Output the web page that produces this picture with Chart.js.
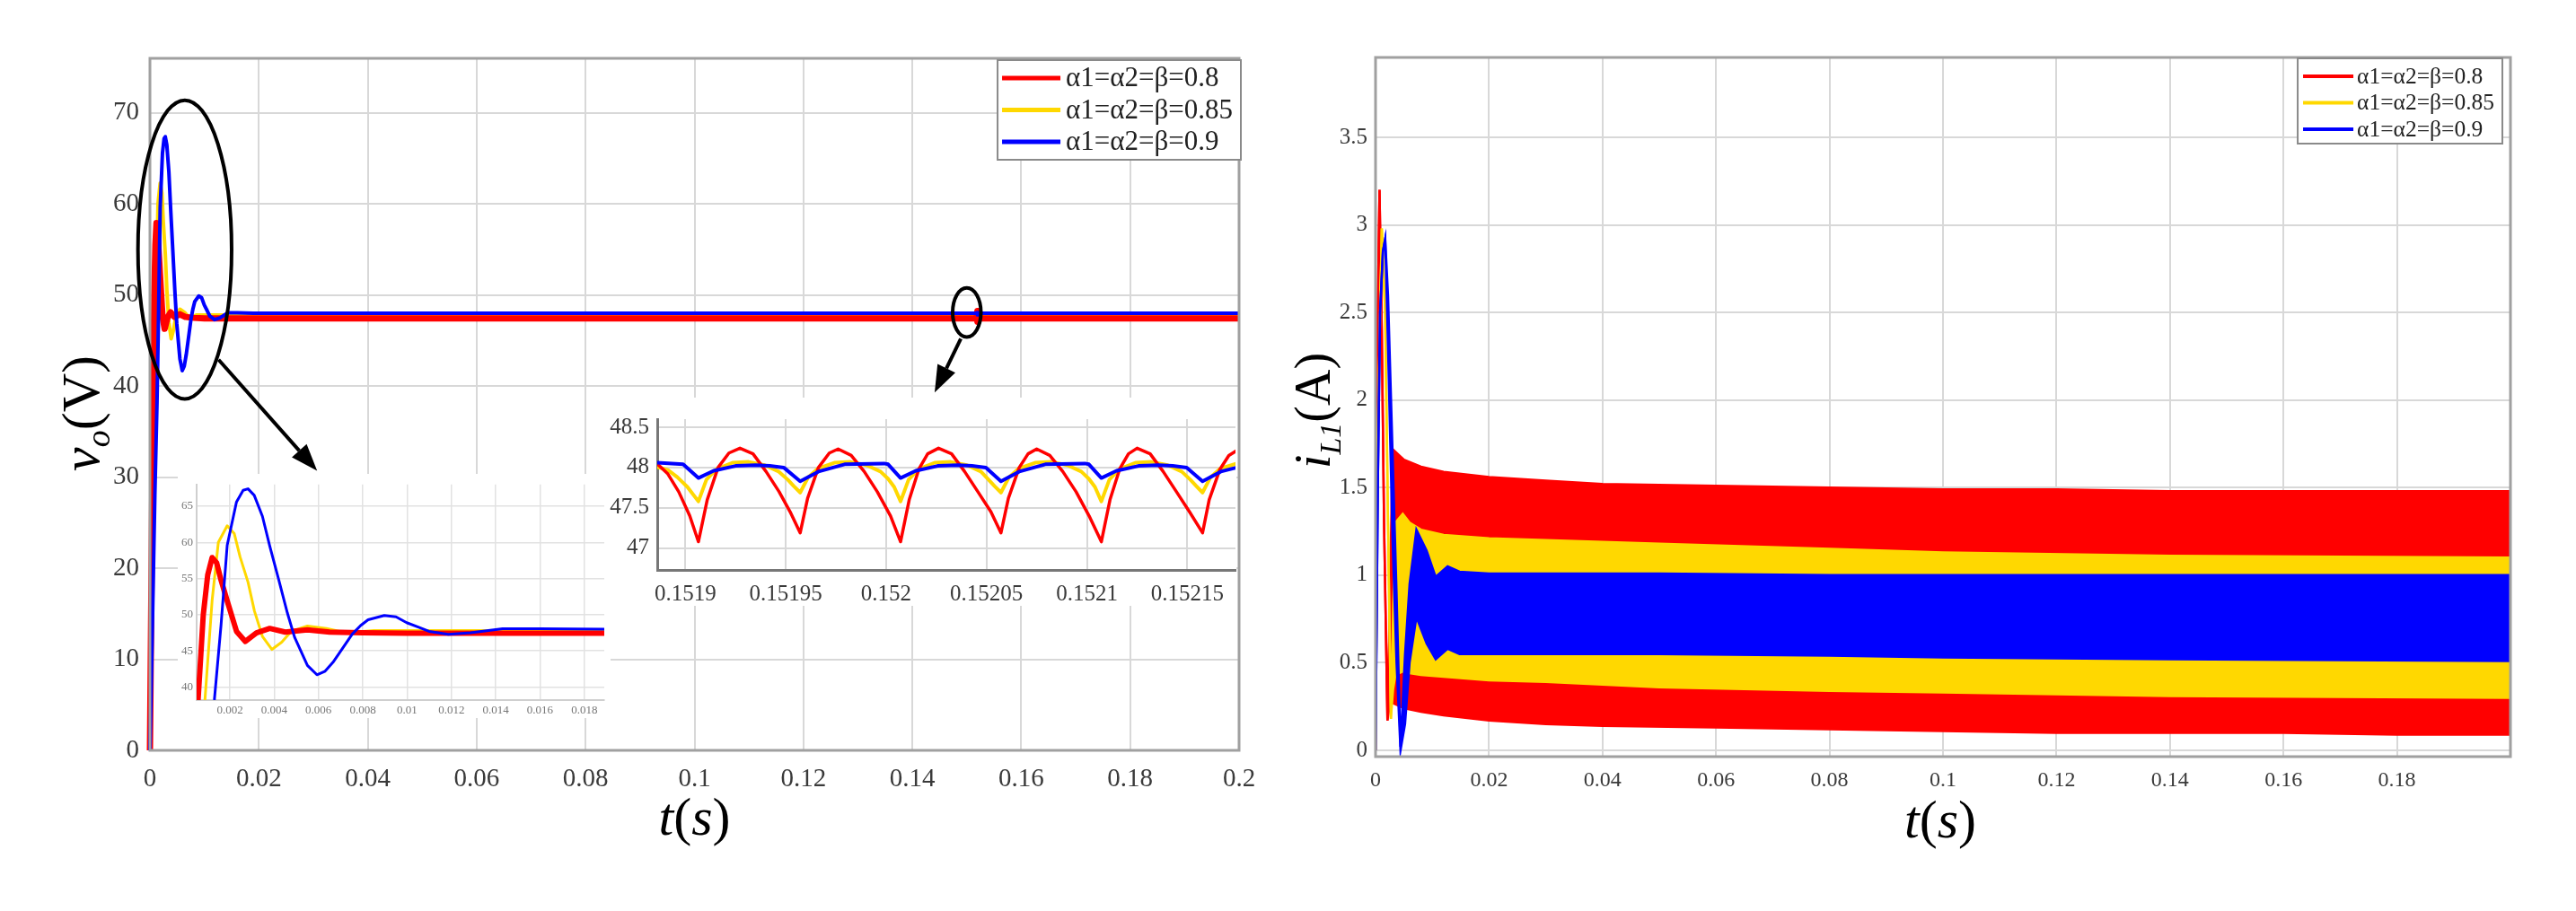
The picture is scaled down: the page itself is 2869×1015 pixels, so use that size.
<!DOCTYPE html>
<html><head><meta charset="utf-8">
<script src="https://cdn.jsdelivr.net/npm/chart.js@4.4.0/dist/chart.umd.min.js"></script>
<style>
html,body{margin:0;padding:0;background:#fff;}
body{position:relative;width:2869px;height:1015px;overflow:hidden;}
canvas{position:absolute;display:block;}
</style></head><body>
<canvas id="main" width="1434" height="1015" style="left:0;top:0;width:1434px;height:1015px"></canvas>
<canvas id="ins1" width="482" height="272" style="left:198px;top:528px;width:482px;height:272px"></canvas>
<canvas id="ins2" width="702" height="232" style="left:675px;top:443px;width:702px;height:232px"></canvas>
<canvas id="right" width="1435" height="1015" style="left:1434px;top:0;width:1435px;height:1015px"></canvas>
<script>
// ---------------- data ----------------
const seriesLabels = ['α1=α2=β=0.8', 'α1=α2=β=0.85', 'α1=α2=β=0.9'];
const seriesColors = ['#ff0000', '#ffd800', '#0000ff'];

// v_o : start-up transient (s, V)
const tRedA = [0,0.0003,0.00056,0.0008,0.001,0.0012,0.0014,0.0016,0.0019,0.0023,0.0027,0.0032,0.0038,0.0045,0.0055,0.0065,0.008,0.01,0.015,0.03,0.06,0.1,0.13,0.1518];
const vRedA = [0,20,38,50,55.5,57.9,57.2,54.8,51.7,47.7,46.3,47.5,48.1,47.6,47.9,47.6,47.5,47.45,47.45,47.45,47.45,47.45,47.45,47.45];
const tYelA = [0,0.0004,0.00087,0.0012,0.00148,0.00188,0.0022,0.00246,0.00282,0.00311,0.00347,0.0039,0.00434,0.00477,0.0055,0.00636,0.00723,0.0085,0.01,0.015,0.03,0.06,0.1,0.13,0.1518];
const vYelA = [0,18,38,52,60,62.3,61.2,58,54.5,50.5,47,45.2,46.2,47.7,48.45,48.1,47.5,47.8,47.8,47.8,47.8,47.8,47.8,47.8,47.8];
const tBluA = [0,0.0004,0.0009,0.0013,0.0016,0.00188,0.0023,0.0026,0.00282,0.0031,0.00347,0.0038,0.0042,0.0046,0.00492,0.0055,0.00593,0.0063,0.00665,0.0071,0.00752,0.0079,0.00824,0.00897,0.0095,0.00998,0.0105,0.01099,0.01186,0.01287,0.01431,0.016,0.019,0.03,0.06,0.1,0.13,0.1518];
const vBluA = [0,12,28,38.2,48.5,59.6,65.6,67.2,67.4,66.5,63.6,59.5,54.9,50.2,46.9,43,41.7,42.2,43.4,45.4,47.3,48.5,49.3,49.9,49.7,48.9,48.3,47.7,47.3,47.5,48.05,48.05,48.0,48.0,48.0,48.0,48.0,48.0];

// v_o : steady-state ripple around t = 0.152 s
const tRedR = [0.1518854,0.1518913,0.1518967,0.1519022,
 0.1519065,0.1519109,0.1519163,0.1519217,0.1519272,0.1519337,0.1519402,0.1519467,0.1519522,
 0.1519572,0.1519609,0.1519663,0.1519717,0.1519761,0.1519826,0.1519891,0.1519956,0.1520022,
 0.1520072,0.1520115,0.1520163,0.1520207,0.1520261,0.1520326,0.1520391,0.1520457,0.1520522,
 0.1520572,0.1520609,0.1520663,0.1520707,0.1520750,0.1520815,0.1520880,0.1520946,0.1521011,
 0.1521072,0.1521115,0.1521163,0.1521207,0.1521250,0.1521315,0.1521380,0.1521446,0.1521511,
 0.1521576,0.1521609,0.1521663,0.1521707,0.1521746];
const vRedR = [48.06,47.92,47.70,47.40,
 47.08,47.60,48.00,48.18,48.24,48.17,47.95,47.70,47.45,
 47.19,47.62,48.00,48.18,48.23,48.15,47.95,47.70,47.40,
 47.08,47.60,47.98,48.17,48.24,48.17,47.95,47.70,47.45,
 47.19,47.62,48.00,48.17,48.23,48.15,47.95,47.70,47.40,
 47.08,47.60,47.98,48.17,48.24,48.17,47.95,47.70,47.45,
 47.19,47.60,47.98,48.15,48.21];
const tYelR = [0.1518854,0.1518913,0.1518960,0.1519010,
 0.1519065,0.1519105,0.1519155,0.1519235,0.1519315,0.1519395,0.1519465,0.1519510,0.1519540,
 0.1519572,0.1519612,0.1519662,0.1519742,0.1519822,0.1519902,0.1519972,0.1520010,0.1520040,
 0.1520072,0.1520112,0.1520162,0.1520242,0.1520322,0.1520402,0.1520472,0.1520510,0.1520540,
 0.1520572,0.1520612,0.1520662,0.1520742,0.1520822,0.1520902,0.1520972,0.1521010,0.1521040,
 0.1521072,0.1521112,0.1521162,0.1521242,0.1521322,0.1521402,0.1521472,0.1521515,0.1521545,
 0.1521576,0.1521616,0.1521666,0.1521746];
const vYelR = [48.01,47.97,47.88,47.76,
 47.58,47.85,47.98,48.06,48.07,48.03,47.95,47.85,47.77,
 47.69,47.88,47.99,48.06,48.07,48.03,47.95,47.86,47.76,
 47.58,47.85,47.98,48.06,48.07,48.03,47.95,47.85,47.77,
 47.69,47.88,47.99,48.06,48.07,48.03,47.95,47.86,47.76,
 47.58,47.85,47.98,48.06,48.07,48.03,47.95,47.85,47.77,
 47.69,47.88,47.99,48.05];
const tBluR = [0.1518854,0.1518989,
 0.1519065,0.1519141,0.1519250,0.1519350,0.1519420,0.1519490,
 0.1519572,0.1519663,0.1519793,0.1519990,0.1520010,
 0.1520072,0.1520148,0.1520257,0.1520357,0.1520427,0.1520497,
 0.1520572,0.1520663,0.1520793,0.1520990,0.1521010,
 0.1521072,0.1521148,0.1521257,0.1521357,0.1521427,0.1521497,
 0.1521576,0.1521667,0.1521746];
const vBluR = [48.06,48.04,
 47.87,47.96,48.02,48.03,48.02,48.00,
 47.83,47.95,48.04,48.05,48.04,
 47.87,47.96,48.02,48.03,48.02,48.00,
 47.83,47.95,48.04,48.05,48.04,
 47.87,47.96,48.02,48.03,48.02,48.00,
 47.83,47.95,48.00];

// v_o : remaining steady state
const tTail = [0.1523,0.17,0.2];
const vRedTail = [47.45,47.45,47.45];
const vYelTail = [47.8,47.8,47.8];
const vBluTail = [48.0,48.0,48.0];

// i_L1 : ripple envelopes (upper / lower), A
const tiRed  = [0,0.0003,0.0007,0.0011,0.0015,0.0021,0.0026,0.003,0.005,0.008,0.012,0.02,0.03,0.04,0.06,0.08,0.1,0.12,0.14,0.16,0.18,0.2];
const iRedHi = [0,2.3,3.2,2.4,1.3,0.17,1.0,1.72,1.66,1.62,1.59,1.56,1.54,1.52,1.51,1.50,1.49,1.49,1.48,1.48,1.48,1.48];
const iRedLo = [0,2.3,3.2,2.4,1.3,0.17,0.28,0.27,0.24,0.22,0.20,0.17,0.15,0.14,0.13,0.12,0.11,0.10,0.10,0.10,0.09,0.09];
const tiYel  = [0,0.0004,0.0011,0.0017,0.0022,0.0027,0.0031,0.0035,0.0048,0.006,0.008,0.012,0.02,0.03,0.05,0.08,0.1,0.14,0.2];
const iYelHi = [0,1.8,2.98,2.5,1.3,0.18,0.8,1.30,1.35,1.30,1.26,1.23,1.21,1.20,1.18,1.15,1.13,1.11,1.10];
const iYelLo = [0,1.8,2.98,2.5,1.3,0.18,0.35,0.43,0.45,0.44,0.43,0.42,0.40,0.39,0.36,0.34,0.33,0.31,0.30];
const tiBlu  = [0,0.0004,0.0008,0.0013,0.0017,0.0022,0.003,0.0037,0.0044,0.0052,0.006,0.0072,0.009,0.0106,0.0127,0.0148,0.02,0.03,0.05,0.08,0.1,0.14,0.2];
const iBluHi = [0,1.5,2.5,2.85,2.92,2.6,1.7,0.9,0.02,0.55,0.95,1.26,1.14,0.99,1.05,1.02,1.01,1.01,1.01,1.0,1.0,1.0,1.0];
const iBluLo = [0,1.5,2.5,2.85,2.92,2.3,1.2,0.5,0.0,0.15,0.5,0.76,0.61,0.52,0.58,0.55,0.55,0.55,0.55,0.54,0.53,0.52,0.51];

// ticks
const xTicksMain = [0,0.02,0.04,0.06,0.08,0.1,0.12,0.14,0.16,0.18,0.2];
const xLabelsMain = ['0','0.02','0.04','0.06','0.08','0.1','0.12','0.14','0.16','0.18','0.2'];
const yTicksMain = [0,10,20,30,40,50,60,70];
const xTicksIns1 = [0.002,0.004,0.006,0.008,0.01,0.012,0.014,0.016,0.018];
const xLabelsIns1 = ['0.002','0.004','0.006','0.008','0.01','0.012','0.014','0.016','0.018'];
const yTicksIns1 = [40,45,50,55,60,65];
const xTicksIns2 = [0.1519,0.15195,0.152,0.15205,0.1521,0.15215];
const xLabelsIns2 = ['0.1519','0.15195','0.152','0.15205','0.1521','0.15215'];
const yTicksIns2 = [47,47.5,48,48.5];
const yLabelsIns2 = ['47','47.5','48','48.5'];
const xTicksRight = [0,0.02,0.04,0.06,0.08,0.1,0.12,0.14,0.16,0.18];
const xLabelsRight = ['0','0.02','0.04','0.06','0.08','0.1','0.12','0.14','0.16','0.18'];
const yTicksRight = [0,0.5,1,1.5,2,2.5,3,3.5];
const yLabelsRight = ['0','0.5','1','1.5','2','2.5','3','3.5'];

// annotations on the v_o plot (data coordinates)
const ellipses = [{t:0.0064, v:55, dt:0.0086, dv:16.4}, {t:0.15, v:48.1, dt:0.0026, dv:2.7}];
const arrows = [{t0:0.0126, v0:42.9, t1:0.0307, v1:30.7}, {t0:0.1489, v0:45.2, t1:0.1441, v1:39.3}];

// ---------------- helpers ----------------
const SERIF = '"Liberation Serif","Times New Roman",serif';
Chart.defaults.font.family = SERIF;
const pts = (t, v) => t.map((x, i) => ({x, y: v[i]}));
const vRedAll = [...pts(tRedA, vRedA), ...pts(tRedR, vRedR), ...pts(tTail, vRedTail)];
const vYelAll = [...pts(tYelA, vYelA), ...pts(tYelR, vYelR), ...pts(tTail, vYelTail)];
const vBluAll = [...pts(tBluA, vBluA), ...pts(tBluR, vBluR), ...pts(tTail, vBluTail)];

function lineSets(widths, clip) {
  const all = [vRedAll, vYelAll, vBluAll];
  const order = [2, 3, 1];
  return all.map((d, i) => ({
    label: seriesLabels[i], legend: true, data: d, borderColor: seriesColors[i],
    backgroundColor: seriesColors[i], borderWidth: widths[i], pointRadius: 0,
    tension: 0, fill: false, order: order[i], clip: clip, borderJoinStyle: 'round'
  }));
}

function linAxis(o) {
  return {
    type: 'linear', min: o.min, max: o.max,
    afterBuildTicks: s => { s.ticks = o.ticks.map(v => ({value: v})); },
    afterFit: s => { if (o.w !== undefined) s.width = o.w; if (o.h !== undefined) s.height = o.h; },
    grid: {color: o.grid || '#d8d8d8', lineWidth: o.gridW || 2, drawTicks: false},
    border: {display: !!o.border, color: o.border || '#999', width: o.borderW || 2},
    ticks: {
      autoSkip: false, maxRotation: 0, minRotation: 0, padding: o.pad,
      color: o.color || '#3a3a3a', font: {size: o.size, family: SERIF},
      callback: (v, i) => o.labels ? o.labels[i] : String(v)
    }
  };
}

const whiteBg = {id: 'whiteBg', beforeDraw(c) { const x = c.ctx; x.save(); x.fillStyle = '#fff'; x.fillRect(0, 0, c.width, c.height); x.restore(); }};
const frame = (color, w) => ({id: 'frame', afterDatasetsDraw(c) {
  const {ctx, chartArea: a} = c; ctx.save(); ctx.strokeStyle = color; ctx.lineWidth = w;
  ctx.strokeRect(a.left, a.top, a.right - a.left, a.bottom - a.top); ctx.restore();
}});
const boxLegend = o => ({id: 'boxLegend', afterDraw(c) {
  const {ctx, chartArea: a} = c;
  const items = c.data.datasets.filter(d => d.legend);
  ctx.save();
  ctx.font = o.size + 'px ' + SERIF;
  const tw = Math.max(...items.map(d => ctx.measureText(d.label).width));
  const w = o.padL + o.lineLen + o.gap + tw + o.padR;
  const bx = a.right - o.marginR - w, by = a.top + o.marginT;
  ctx.fillStyle = '#fff'; ctx.fillRect(bx, by, w, o.boxH);
  ctx.strokeStyle = '#8a8a8a'; ctx.lineWidth = 2; ctx.strokeRect(bx, by, w, o.boxH);
  items.forEach((d, i) => {
    const yy = by + o.firstRow + i * o.rowH;
    ctx.strokeStyle = d.borderColor; ctx.lineWidth = o.lineW;
    ctx.beginPath(); ctx.moveTo(bx + o.padL, yy); ctx.lineTo(bx + o.padL + o.lineLen, yy); ctx.stroke();
    ctx.fillStyle = '#222'; ctx.textBaseline = 'middle'; ctx.textAlign = 'left';
    ctx.fillText(d.label, bx + o.padL + o.lineLen + o.gap, yy + 1);
  });
  ctx.restore();
}});
const titles = items => ({id: 'titles', afterDraw(c) {
  const {ctx, chartArea: a} = c;
  items.forEach(it => {
    ctx.save();
    if (it.rot) { ctx.translate(a.left + it.dx, (a.top + a.bottom) / 2 + it.dy); ctx.rotate(-Math.PI / 2); }
    else { ctx.translate((a.left + a.right) / 2 + it.dx, a.bottom + it.dy); }
    const parts = it.parts.map(p => { ctx.font = (p.it ? 'italic ' : '') + p.s + 'px ' + SERIF; return Object.assign({w: ctx.measureText(p.t).width}, p); });
    let x = -parts.reduce((s, p) => s + p.w, 0) / 2;
    ctx.fillStyle = '#000'; ctx.textBaseline = 'alphabetic'; ctx.textAlign = 'left';
    parts.forEach(p => { ctx.font = (p.it ? 'italic ' : '') + p.s + 'px ' + SERIF; ctx.fillText(p.t, x, p.off || 0); x += p.w; });
    ctx.restore();
  });
}});
const annot = {id: 'annot', afterDatasetsDraw(c) {
  const {ctx, scales: {x, y}} = c;
  ctx.save(); ctx.strokeStyle = '#000'; ctx.fillStyle = '#000'; ctx.lineWidth = 4;
  ellipses.forEach(e => {
    const cx = x.getPixelForValue(e.t), cy = y.getPixelForValue(e.v);
    const rx = Math.abs(x.getPixelForValue(e.t + e.dt) - cx), ry = Math.abs(y.getPixelForValue(e.v + e.dv) - cy);
    ctx.beginPath(); ctx.ellipse(cx, cy, rx, ry, 0, 0, Math.PI * 2); ctx.stroke();
  });
  arrows.forEach(r => {
    const x0 = x.getPixelForValue(r.t0), y0 = y.getPixelForValue(r.v0);
    const x1 = x.getPixelForValue(r.t1), y1 = y.getPixelForValue(r.v1);
    const ang = Math.atan2(y1 - y0, x1 - x0), L = 30, W = 11;
    const bxp = x1 - L * Math.cos(ang), byp = y1 - L * Math.sin(ang);
    ctx.beginPath(); ctx.moveTo(x0, y0); ctx.lineTo(bxp, byp); ctx.stroke();
    ctx.beginPath(); ctx.moveTo(x1, y1);
    ctx.lineTo(bxp + W * Math.sin(ang), byp - W * Math.cos(ang));
    ctx.lineTo(bxp - W * Math.sin(ang), byp + W * Math.cos(ang));
    ctx.closePath(); ctx.fill();
  });
  ctx.restore();
}};

const common = {responsive: false, animation: false, devicePixelRatio: 1,
  plugins: {legend: {display: false}, tooltip: {enabled: false}}, events: []};

// ---------------- main v_o chart ----------------
new Chart(document.getElementById('main'), {
  type: 'line',
  data: {datasets: lineSets([7, 4, 4], 4)},
  options: Object.assign({}, common, {
    layout: {padding: {left: 67, right: 54, top: 65, bottom: 119}},
    scales: {
      x: linAxis({min: 0, max: 0.2, ticks: xTicksMain, labels: xLabelsMain, size: 29, pad: 15, h: 60}),
      y: linAxis({min: 0, max: 76, ticks: yTicksMain, size: 29, pad: 12, w: 100})
    }
  }),
  plugins: [frame('#a0a0a0', 3), annot,
    boxLegend({size: 31, rowH: 35.5, firstRow: 20, padL: 5, lineLen: 65, gap: 6, padR: 9, boxH: 111, marginT: 2, marginR: -2, lineW: 5}),
    titles([
      {rot: false, dx: 0, dy: 94, parts: [{t: 't', it: true, s: 60}, {t: '(', s: 60}, {t: 's', it: true, s: 60}, {t: ')', s: 60}]},
      {rot: true, dx: -57, dy: 10, parts: [{t: 'v', it: true, s: 60}, {t: 'o', it: true, s: 38, off: 12}, {t: '(V)', s: 60}]}
    ])]
});

// ---------------- inset 1 : start-up zoom ----------------
new Chart(document.getElementById('ins1'), {
  type: 'line',
  data: {datasets: lineSets([6, 3, 3], 0)},
  options: Object.assign({}, common, {
    layout: {padding: {left: 0, right: 7, top: 2, bottom: 0}},
    scales: {
      x: linAxis({min: 0.0005, max: 0.0189, ticks: xTicksIns1, labels: xLabelsIns1, size: 13, pad: 4, h: 20, grid: '#e2e2e2', gridW: 1.5, border: '#cfcfcf', color: '#777'}),
      y: linAxis({min: 38.2, max: 68, ticks: yTicksIns1, size: 13, pad: 4, w: 21, grid: '#e2e2e2', gridW: 1.5, border: '#cfcfcf', color: '#777'})
    }
  }),
  plugins: [whiteBg]
});

// ---------------- inset 2 : ripple zoom ----------------
new Chart(document.getElementById('ins2'), {
  type: 'line',
  data: {datasets: lineSets([3.5, 4, 4], 0)},
  options: Object.assign({}, common, {
    layout: {padding: {left: 0, right: 1, top: 2, bottom: 0}},
    scales: {
      x: linAxis({min: 0.151886, max: 0.152174, ticks: xTicksIns2, labels: xLabelsIns2, size: 25, pad: 12, h: 40, border: '#777', borderW: 3}),
      y: linAxis({min: 46.73, max: 48.6, ticks: yTicksIns2, labels: yLabelsIns2, size: 25, pad: 9, w: 57, border: '#777', borderW: 3})
    }
  }),
  plugins: [whiteBg]
});

// ---------------- right i_L1 chart ----------------
function band(i, t, hi, lo, order) {
  const c = seriesColors[i];
  return [
    {label: seriesLabels[i], legend: true, data: pts(t, hi), borderColor: c, backgroundColor: c, borderWidth: 2.5, pointRadius: 0, tension: 0, fill: '+1', order},
    {label: seriesLabels[i] + ' (lower)', data: pts(t, lo), borderColor: c, backgroundColor: c, borderWidth: 2.5, pointRadius: 0, tension: 0, fill: false, order}
  ];
}
new Chart(document.getElementById('right'), {
  type: 'line',
  data: {datasets: [...band(0, tiRed, iRedHi, iRedLo, 3), ...band(1, tiYel, iYelHi, iYelLo, 2), ...band(2, tiBlu, iBluHi, iBluLo, 1)]},
  options: Object.assign({}, common, {
    layout: {padding: {left: 20, right: 73, top: 64, bottom: 112}},
    scales: {
      x: linAxis({min: 0, max: 0.2, ticks: xTicksRight, labels: xLabelsRight, size: 24, pad: 12, h: 60}),
      y: linAxis({min: -0.036, max: 3.956, ticks: yTicksRight, labels: yLabelsRight, size: 25, pad: 9, w: 78})
    }
  }),
  plugins: [frame('#a0a0a0', 3),
    boxLegend({size: 25.5, rowH: 29.5, firstRow: 20, padL: 6, lineLen: 56, gap: 4, padR: 9, boxH: 95, marginT: 1, marginR: 9, lineW: 4}),
    titles([
      {rot: false, dx: -3, dy: 90, parts: [{t: 't', it: true, s: 60}, {t: '(', s: 60}, {t: 's', it: true, s: 60}, {t: ')', s: 60}]},
      {rot: true, dx: -51, dy: 4, parts: [{t: 'i', it: true, s: 56}, {t: 'L1', it: true, s: 34, off: 12}, {t: '(A)', s: 56}]}
    ])]
});
</script></body></html>
